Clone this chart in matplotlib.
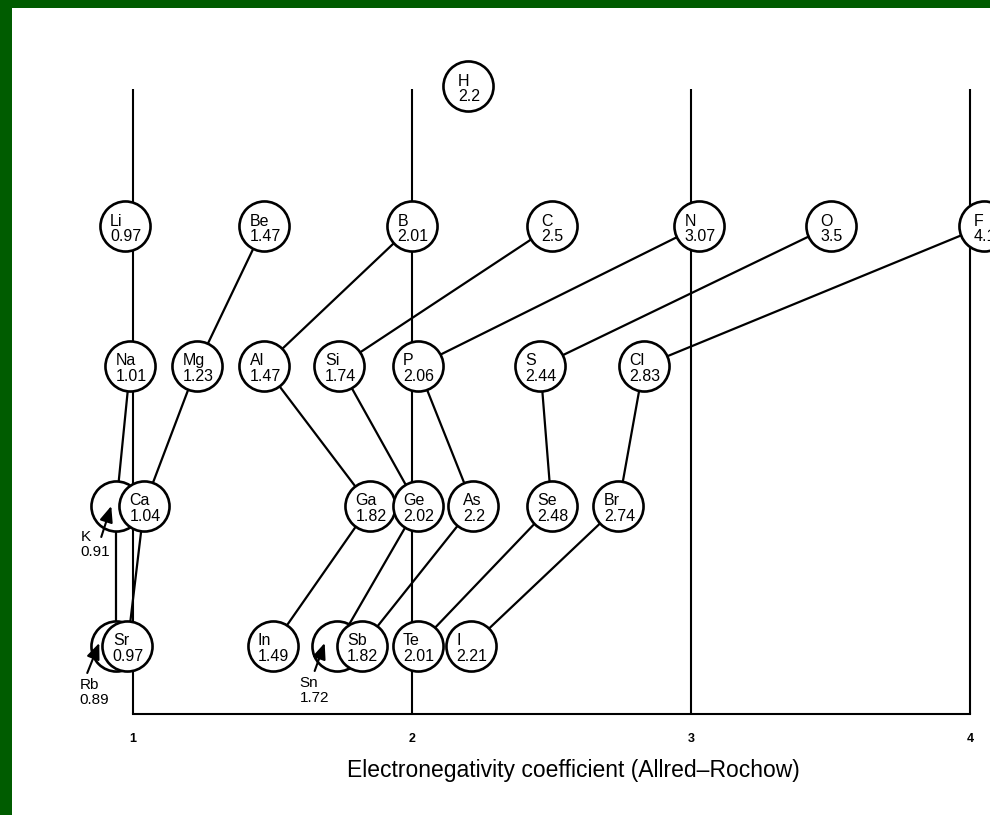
import numpy as np
import matplotlib
matplotlib.use("Agg")
import matplotlib.pyplot as plt

plt.rcParams['font.family'] = ['Liberation Sans', 'DejaVu Sans']

# element data
symbols = ['H', 'Li', 'Be', 'B', 'C', 'N', 'O', 'F',
           'Na', 'Mg', 'Al', 'Si', 'P', 'S', 'Cl',
           'K', 'Ca', 'Ga', 'Ge', 'As', 'Se', 'Br',
           'Rb', 'Sr', 'In', 'Sn', 'Sb', 'Te', 'I']
values = ['2.2', '0.97', '1.47', '2.01', '2.5', '3.07', '3.5', '4.1',
          '1.01', '1.23', '1.47', '1.74', '2.06', '2.44', '2.83',
          '0.91', '1.04', '1.82', '2.02', '2.2', '2.48', '2.74',
          '0.89', '0.97', '1.49', '1.72', '1.82', '2.01', '2.21']
xpos = [2.20, 0.97, 1.47, 2.00, 2.50, 3.03, 3.50, 4.05,
        0.99, 1.23, 1.47, 1.74, 2.02, 2.46, 2.83,
        0.94, 1.04, 1.85, 2.02, 2.22, 2.50, 2.74,
        0.94, 0.98, 1.50, 1.73, 1.82, 2.02, 2.21]
period = [1, 2, 2, 2, 2, 2, 2, 2,
          3, 3, 3, 3, 3, 3, 3,
          4, 4, 4, 4, 4, 4, 4,
          5, 5, 5, 5, 5, 5, 5]

# elements hidden behind a neighbour, labelled outside with an arrow
hidden = ['K', 'Rb', 'Sn']

links = [('Be', 'Mg'), ('Mg', 'Ca'), ('Na', 'K'), ('K', 'Rb'), ('Ca', 'Sr'),
         ('B', 'Al'), ('C', 'Si'), ('N', 'P'), ('O', 'S'), ('F', 'Cl'),
         ('Al', 'Ga'), ('Si', 'Ge'), ('P', 'As'), ('S', 'Se'), ('Cl', 'Br'),
         ('Ga', 'In'), ('Ge', 'Sn'), ('As', 'Sb'), ('Se', 'Te'), ('Br', 'I')]

ticks = [1, 2, 3, 4]
xlabel = 'Electronegativity coefficient (Allred\u2013Rochow)'

# pixel geometry of the drawing
PX_X = 279.0    # pixels per electronegativity unit
PX_Y = 140.0    # pixels per period row
X0_PIX, Y0_PIX = 133.0, 86.0
top, base = 1.02, 5.486

pos = {s: (x, p) for s, x, p in zip(symbols, xpos, period)}
val = dict(zip(symbols, values))

fig = plt.figure(figsize=(9.9, 8.15), dpi=100)
fig.patch.set_facecolor('#005c00')
ax = fig.add_axes([12 / 990, 0, 978 / 990, 807 / 815])
ax.set_facecolor('white')
ax.set_xlim(1 + (12 - X0_PIX) / PX_X, 1 + (990 - X0_PIX) / PX_X)
ax.set_ylim(1 + (815 - Y0_PIX) / PX_Y, 1 + (8 - Y0_PIX) / PX_Y)
ax.set_xticks([])
ax.set_yticks([])
for sp in ax.spines.values():
    sp.set_visible(False)

# vertical guide lines and base line
for t in ticks:
    ax.plot([t, t], [top, base], color='black', lw=1.5, zorder=1,
            solid_capstyle='butt')
ax.plot([ticks[0], ticks[-1]], [base, base], color='black', lw=1.5, zorder=1)
for t in ticks:
    ax.text(t, 5.665, str(t), ha='center', va='center', fontsize=9,
            fontweight='bold')
ax.text(2.58, 5.89, xlabel, ha='center', va='center', fontsize=16.5)

# group links
for a, b in links:
    ax.plot([pos[a][0], pos[b][0]], [pos[a][1], pos[b][1]],
            color='black', lw=1.6, zorder=2)

# circles: hidden ones first so neighbours sit on top
back = [s for s in symbols if s in hidden]
front = [s for s in symbols if s not in hidden]
ax.scatter([pos[s][0] for s in back], [pos[s][1] for s in back], s=1300,
           facecolor='white', edgecolor='black', linewidths=1.9, zorder=3)
ax.scatter([pos[s][0] for s in front], [pos[s][1] for s in front], s=1300,
           facecolor='white', edgecolor='black', linewidths=1.9, zorder=4)

for s in front:
    x, p = pos[s]
    ax.text(x + 1 / PX_X, p + 0.02, s + '\n' + val[s], ha='center',
            va='center', multialignment='left', fontsize=11.5,
            linespacing=1.05, zorder=5)

# outside labels with arrows (offsets in pixels from the circle centre)
arrow_off = {'K': ((-36, 24), (-15, 31), (-5, 0)),
             'Rb': ((-37, 32), (-29, 27), (-17, -3)),
             'Sn': ((-37, 30), (-22, 25), (-12, -3))}
for s in hidden:
    x, p = pos[s]
    (tx, ty), (ax_, ay), (hx, hy) = arrow_off[s]
    ax.text(x + tx / PX_X, p + ty / PX_Y, s + '\n' + val[s], ha='left',
            va='top', fontsize=11, linespacing=1.05, zorder=6)
    ax.annotate('', xy=(x + hx / PX_X, p + hy / PX_Y),
                xytext=(x + ax_ / PX_X, p + ay / PX_Y),
                arrowprops=dict(arrowstyle='-|>,head_length=0.6,head_width=0.25',
                                color='black', lw=1.5,
                                mutation_scale=16, shrinkA=0, shrinkB=0),
                zorder=6)

fig.savefig('out.png', dpi=100, facecolor=fig.get_facecolor())
